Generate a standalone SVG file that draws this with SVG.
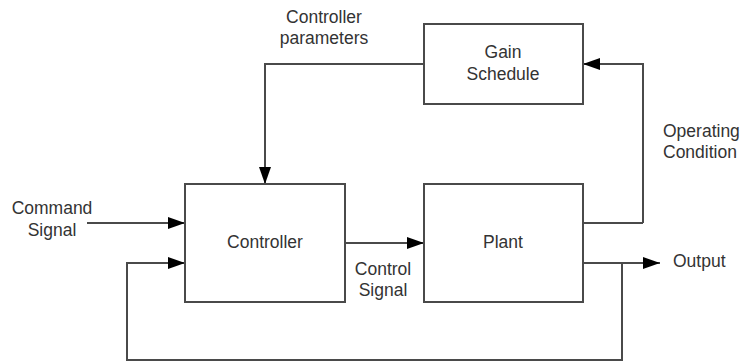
<svg xmlns="http://www.w3.org/2000/svg" width="740" height="362" viewBox="0 0 740 362">
<defs>
<marker id="arr" markerUnits="userSpaceOnUse" markerWidth="18" markerHeight="12" refX="17" refY="6" orient="auto">
<path d="M0,0 L17,6 L0,12 z" fill="#000"/>
</marker>
<style>
.box{fill:#fff;stroke:#4a4a4a;stroke-width:2}
.ln{fill:none;stroke:#4a4a4a;stroke-width:2}
.ar{marker-end:url(#arr)}
text{font-family:"Liberation Sans",Arial,sans-serif;font-size:17.5px;fill:#333}
.c{text-anchor:middle}
</style>
</defs>
<rect width="740" height="362" fill="#fff"/>
<g id="connectors">
<path class="ln ar" d="M424,64 H265 V184"/>
<path class="ln ar" d="M643,223 V64 H583"/>
<path class="ln" d="M583,223 H643"/>
<path class="ln ar" d="M87,223 H185"/>
<path class="ln ar" d="M622,263 V360 H127 V263 H185"/>
<path class="ln ar" d="M345,243 H424"/>
<path class="ln ar" d="M583,263 H660"/>
</g>
<g id="gain-schedule">
<rect class="box" x="424" y="24" width="159" height="80"/>
<text class="c" x="503" y="58">Gain</text>
<text class="c" x="503" y="80">Schedule</text>
</g>
<g id="controller">
<rect class="box" x="185" y="184" width="160" height="118"/>
<text class="c" x="265" y="248">Controller</text>
</g>
<g id="plant">
<rect class="box" x="424" y="184" width="159" height="118"/>
<text class="c" x="503" y="248">Plant</text>
</g>
<g id="labels">
<text class="c" x="324" y="23">Controller</text>
<text class="c" x="324" y="44">parameters</text>
<text x="663" y="137">Operating</text>
<text x="663" y="158">Condition</text>
<text class="c" x="52" y="214">Command</text>
<text class="c" x="52" y="236">Signal</text>
<text class="c" x="383" y="275">Control</text>
<text class="c" x="383" y="296">Signal</text>
<text x="673" y="267">Output</text>
</g>
</svg>
